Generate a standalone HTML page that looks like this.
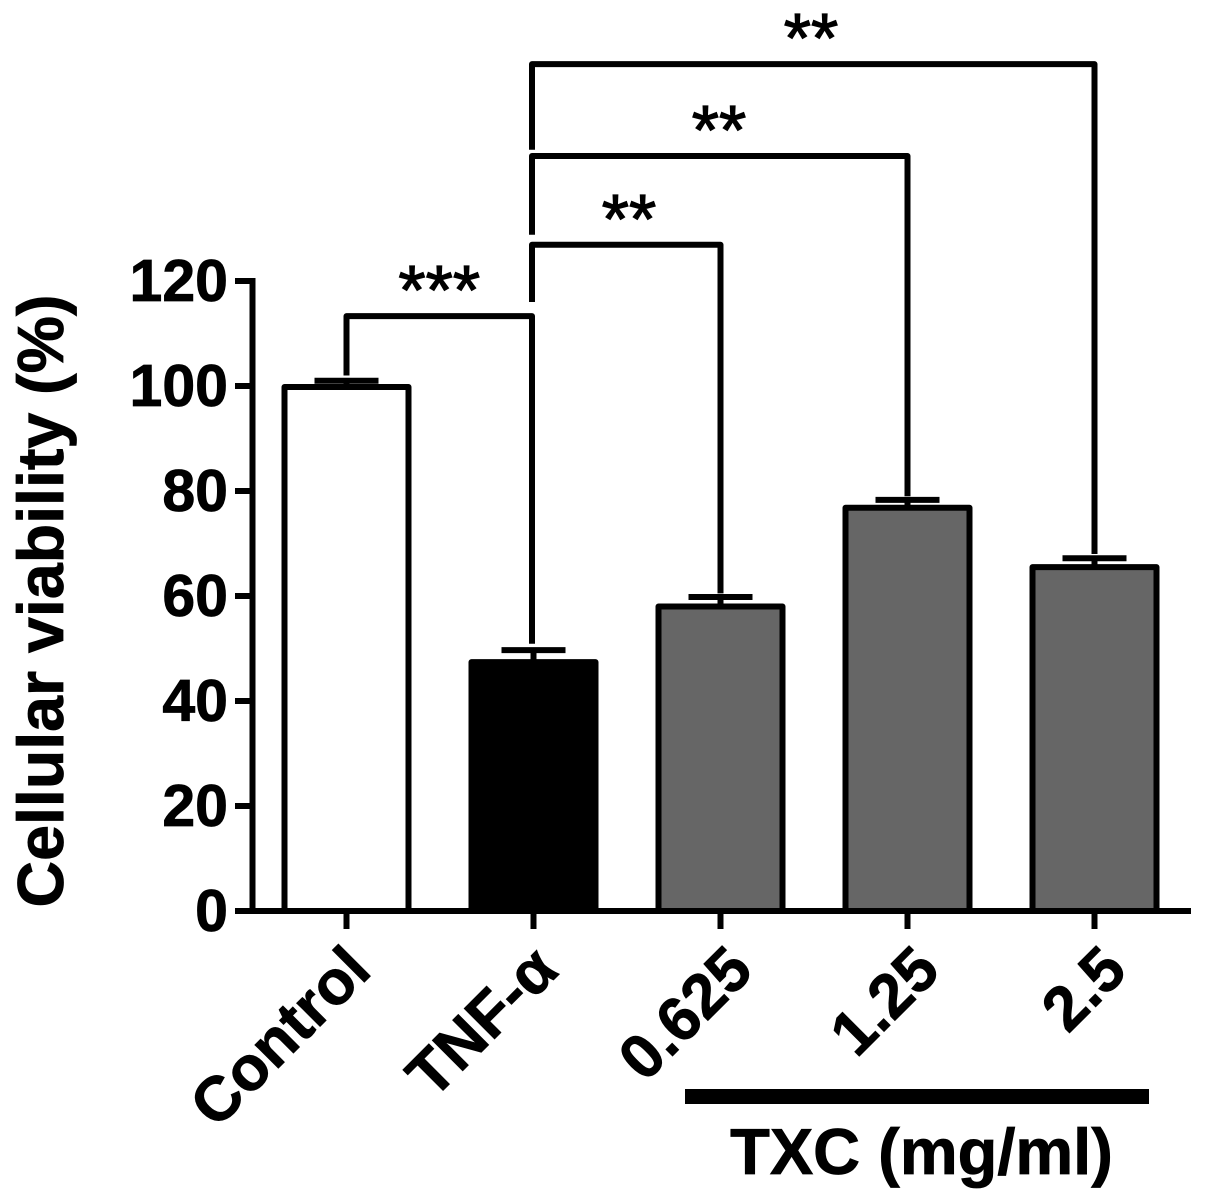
<!DOCTYPE html>
<html lang="en">
<head>
<meta charset="utf-8">
<title>Cellular viability bar chart</title>
<style>
html,body{margin:0;padding:0;background:#fff;width:1205px;height:1201px;overflow:hidden}
svg{display:block;font-family:"Liberation Sans",Arial,sans-serif;font-weight:bold;fill:#000}
</style>
</head>
<body>
<svg id="chart" width="1205" height="1201" viewBox="0 0 1205 1201" xmlns="http://www.w3.org/2000/svg"></svg>
<script>
const categories = ['Control', 'TNF-α', '0.625', '1.25', '2.5'];
const barValues = [99.8, 47.4, 58, 76.8, 65.5];
const errorValues = [1.2, 2.3, 1.8, 1.5, 1.7];
const barFills = ['#ffffff', '#000000', '#666666', '#666666', '#666666'];
const yTicks = [0, 20, 40, 60, 80, 100, 120];
const bracketFrom = [0, 1, 1, 1];
const bracketTo = [1, 2, 3, 4];
const bracketLevels = [113.3, 126.9, 143.8, 161.3];
const bracketFromEnds = [102, 116, 128.8, 145];
const bracketToEnds = [50.9, 60.5, 79, 68];
const bracketLabels = ['***', '**', '**', '**'];

const NS = 'http://www.w3.org/2000/svg';
const svg = document.getElementById('chart');
const yScale = v => 911 - v * 5.25;
const xScale = i => 346.5 + i * 187;

function make(tag, attrs, text) {
  const el = document.createElementNS(NS, tag);
  for (const k in attrs) el.setAttribute(k, attrs[k]);
  if (text !== undefined) el.textContent = text;
  svg.appendChild(el);
  return el;
}

categories.forEach((c, i) => {
  const top = yScale(barValues[i]);
  const cx = xScale(i);
  const stem = make('line', {x1: cx, x2: cx, y1: top, y2: yScale(barValues[i] + errorValues[i]), stroke: '#000', 'stroke-width': 6});
  
  
  const cap = make('line', {x1: cx - 32, x2: cx + 32, y1: yScale(barValues[i] + errorValues[i]), y2: yScale(barValues[i] + errorValues[i]), stroke: '#000', 'stroke-width': 6});
  
  
  const bar = make('rect', {x: cx - 62, y: top, width: 124, height: 911 - top, fill: barFills[i], stroke: '#000', 'stroke-width': 6, 'stroke-linejoin': 'round'});
  
  
});

const yAxis = make('line', {x1: 252.5, x2: 252.5, y1: yScale(120) - 3, y2: 914, stroke: '#000', 'stroke-width': 6});


const xAxis = make('line', {x1: 252, x2: 1191, y1: 911, y2: 911, stroke: '#000', 'stroke-width': 6});



yTicks.forEach(t => {
  const tick = make('line', {x1: 235, x2: 252, y1: yScale(t), y2: yScale(t), stroke: '#000', 'stroke-width': 6});
  
  
  const label = make('text', {x: 228, y: yScale(t) + 20, 'text-anchor': 'end', 'font-size': 59, stroke: '#000', 'stroke-width': 0.8}, String(t));
  
  
});

categories.forEach((c, i) => {
  const cx = xScale(i);
  const tick = make('line', {x1: cx, x2: cx, y1: 911, y2: 929, stroke: '#000', 'stroke-width': 6});
  
  
  const lx = cx + (isNaN(parseFloat(c)) ? 27 : 35);
  const ly = 973;
  const label = make('text', {x: lx, y: ly, 'text-anchor': 'end', 'font-size': 62.5, stroke: '#000', 'stroke-width': 0.8, transform: 'rotate(-45 ' + lx + ' ' + ly + ')'}, c);
  
  
});

bracketLevels.forEach((lvl, i) => {
  const x1 = xScale(bracketFrom[i]) - (bracketFrom[i] === 1 ? 1.5 : 0);
  const x2 = xScale(bracketTo[i]) - (bracketTo[i] === 1 ? 1.5 : 0);
  const d = 'M' + x1 + ' ' + yScale(bracketFromEnds[i]) + 'V' + yScale(lvl) + 'H' + x2 + 'V' + yScale(bracketToEnds[i]);
  const path = make('path', {d: d, fill: 'none', stroke: '#000', 'stroke-width': 6, 'stroke-linejoin': 'round'});
  
  
  const sx = i === 0 ? (x1 + x2) / 2 : x1 + [0, 97, 187, 279][i];
  const star = make('text', {x: sx, y: yScale(lvl) - 2, 'text-anchor': 'middle', 'font-size': 70, 'font-weight': 'normal', stroke: '#000', 'stroke-width': 1.2}, bracketLabels[i]);
  
  
});

const yTitle = make('text', {x: 0, y: 0, 'text-anchor': 'middle', 'font-size': 64.5, stroke: '#000', 'stroke-width': 0.8, transform: 'translate(63 601) rotate(-90)'}, 'Cellular viability (%)');



const groupBar = make('rect', {x: 685, y: 1089, width: 464, height: 15, fill: '#000'});


const groupLabel = make('text', {x: 921.5, y: 1174, 'text-anchor': 'middle', 'font-size': 65, stroke: '#000', 'stroke-width': 0.8}, 'TXC (mg/ml)');


</script>
</body>
</html>
